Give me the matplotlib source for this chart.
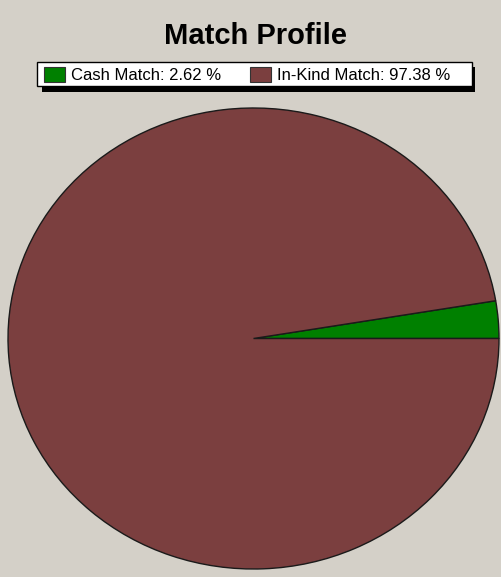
import matplotlib.pyplot as plt
from matplotlib.patches import Rectangle

labels = ["Cash Match", "In-Kind Match"]
shares = [2.62, 97.38]
colors = ["#008000", "#7b3f3f"]

bg = "#d4d0c8"
W, H = 501, 577

plt.rcParams["font.family"] = ["Liberation Sans", "DejaVu Sans"]
fig = plt.figure(figsize=(W / 100, H / 100), dpi=100)
fig.patch.set_facecolor(bg)

# pie is drawn stretched into an ellipse, like the original
ax = fig.add_axes([8 / W, 8 / H, 491 / W, 461 / H])
ax.pie(shares, colors=colors, startangle=0, counterclock=True,
       wedgeprops=dict(edgecolor="#1a1a1a", linewidth=1.0))
ax.set_aspect("auto")
ax.set_xlim(-1, 1)
ax.set_ylim(-1, 1)
ax.axis("off")

fig.text(255 / W, 1 - 36 / H, "Match Profile", ha="center", va="center",
         fontsize=21, fontweight="bold")

def px(x, y, w, h):
    return (x / W, 1 - (y + h) / H), w / W, h / H

# legend box with a black drop shadow
xy, w, h = px(42, 67, 433, 25)
fig.patches.append(Rectangle(xy, w, h, transform=fig.transFigure, facecolor="black",
                             edgecolor="none", zorder=1))
xy, w, h = px(37, 62, 435, 24)
fig.patches.append(Rectangle(xy, w, h, transform=fig.transFigure, facecolor="white",
                             edgecolor="black", linewidth=1, zorder=2))

entries = [(44, labels[0], shares[0], colors[0]), (250, labels[1], shares[1], colors[1])]
for x0, lab, val, c in entries:
    xy, w, h = px(x0, 67, 21, 15)
    fig.patches.append(Rectangle(xy, w, h, transform=fig.transFigure, facecolor=c,
                                 edgecolor="#333333", linewidth=0.8, zorder=3))
    fig.text((x0 + 27) / W, 1 - 75 / H, f"{lab}: {val:.2f} %", ha="left", va="center",
             fontsize=12, zorder=4)

fig.savefig("out.png", dpi=100, facecolor=bg)
